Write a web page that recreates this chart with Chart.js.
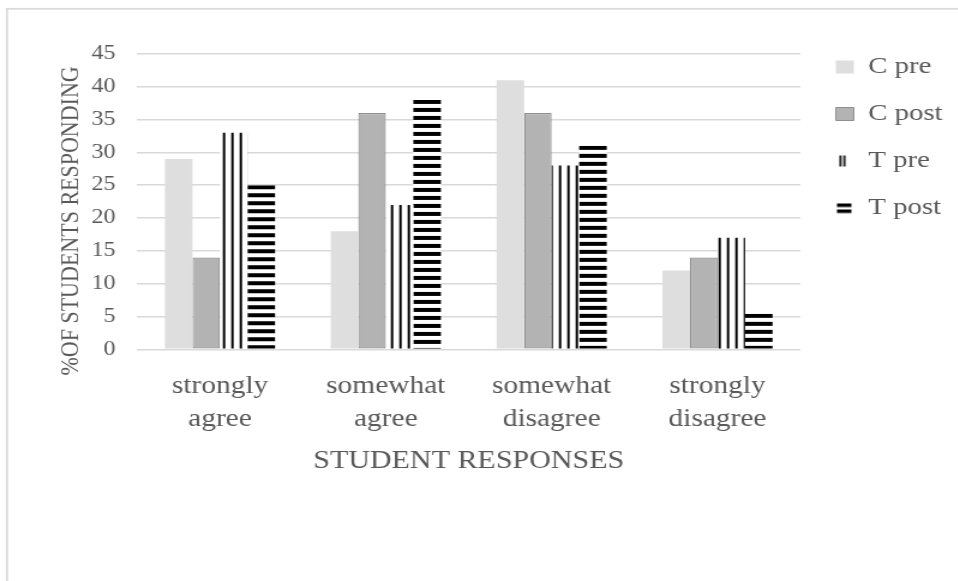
<!DOCTYPE html>
<html>
<head>
<meta charset="utf-8">
<script src="https://cdn.jsdelivr.net/npm/chart.js@4/dist/chart.umd.min.js"></script>
<style>
  html, body { margin: 0; padding: 0; background: #fff; overflow: hidden; }
  /* the chart is laid out narrower and stretched sideways to the window width */
  #wrap { position: absolute; left: 0; top: 0; width: 798.33px; height: 581px;
          transform: scaleX(1.2); transform-origin: 0 0; }
</style>
</head>
<body>
<div id="wrap"><canvas id="c"></canvas></div>
<script>
// ---- data ----
const categories = [['strongly', 'agree'], ['somewhat', 'agree'], ['somewhat', 'disagree'], ['strongly', 'disagree']];
const seriesNames = ['C pre', 'C post', 'T pre', 'T post'];
const cPre  = [29, 18, 41, 12];
const cPost = [14, 36, 36, 14];
const tPre  = [33, 22, 28, 17];
const tPost = [25, 38, 31, 5.4];
const yMin = 0, yMax = 45, yStep = 5;
const xTitle = 'STUDENT RESPONSES';
const yTitle = '%OF STUDENTS RESPONDING';

// ---- style ----
const FONT = "'Liberation Serif', 'Times New Roman', serif";
const TEXT = '#595959';
const GRID = '#d9d9d9';
const LEGEND_FONT = 24, LEGEND_PAD = 23, BOX_W = 15, BOX_H = 13;
const Y_AXIS_WIDTH = 71.9, X_AXIS_HEIGHT = 131.1;

Chart.defaults.font.family = FONT;
Chart.defaults.color = TEXT;

const canvas = document.getElementById('c');
const ctx = canvas.getContext('2d');

// hatch tiles
function tile(w, h, draw) {
  const c = document.createElement('canvas');
  c.width = w; c.height = h;
  const g = c.getContext('2d');
  g.fillStyle = '#fff'; g.fillRect(0, 0, w, h);
  g.fillStyle = '#000'; draw(g);
  return c;
}
const vLineTile = tile(7, 1, g => g.fillRect(0, 0, 2, 1));
const hLineTile = tile(1, 8, g => g.fillRect(0, 0, 1, 4));

// vertical lines, one shared phase across the chart
const vLines = ctx.createPattern(vLineTile, 'repeat');
vLines.setTransform(new DOMMatrix().translate(3.7, 0));

// horizontal stripes start with a black band at each bar's top
const stripeCache = {};
function stripesFrom(y) {
  const key = y.toFixed(2);
  if (!stripeCache[key]) {
    const p = ctx.createPattern(hLineTile, 'repeat');
    p.setTransform(new DOMMatrix().translate(0, y));
    stripeCache[key] = p;
  }
  return stripeCache[key];
}

// legend swatches for the hatched series
const legendTPre = ctx.createPattern(tile(BOX_W, BOX_H, g => {
  g.fillRect(3, 1, 1.7, 11); g.fillRect(6.4, 1, 1.7, 11);
}), 'no-repeat');
const legendTPost = ctx.createPattern(tile(BOX_W, BOX_H, g => {
  g.fillRect(1, 2, 12, 3.5); g.fillRect(1, 8, 12, 3.5);
}), 'no-repeat');
const legendFills = ['#dedede', '#b3b3b3', legendTPre, legendTPost];
const legendStrokes = ['#dedede', '#8e8e8e', '#fff', '#fff'];
const legendWidths = [0, 1, 0, 0];

// light frame around the chart
const frame = {
  id: 'frame',
  beforeDraw(chart) {
    const g = chart.ctx;
    g.save();
    g.fillStyle = '#fff';
    g.fillRect(0, 0, chart.width, chart.height);
    g.strokeStyle = GRID;
    g.lineWidth = 1.7;
    g.strokeRect(5.8, 8.8, chart.width + 40, chart.height + 40);
    g.restore();
  }
};

// legend sits just right of the plot, items starting a little above its top
const legendPlacement = {
  id: 'legendPlacement',
  afterLayout(chart) {
    const lg = chart.legend;
    if (!lg) return;
    const ca = chart.chartArea;
    const left = ca.right + 6.5;
    const top = ca.top - 22;
    lg.left = left; lg.right = left + lg.width;
    lg.top = top; lg.bottom = top + lg.height;
    const boxX = left + LEGEND_PAD;
    const rowY = i => top + LEGEND_PAD + i * (LEGEND_FONT + LEGEND_PAD) + (LEGEND_FONT - BOX_H) / 2;
    legendTPre.setTransform(new DOMMatrix().translate(boxX, rowY(2)));
    legendTPost.setTransform(new DOMMatrix().translate(boxX, rowY(3)));
  }
};

new Chart(ctx, {
  type: 'bar',
  data: {
    labels: categories,
    datasets: [
      { label: seriesNames[0], data: cPre, backgroundColor: '#dedede', borderWidth: 0 },
      { label: seriesNames[1], data: cPost, backgroundColor: '#b3b3b3', borderColor: '#8e8e8e',
        borderWidth: 1.2, borderSkipped: false },
      { label: seriesNames[2], data: tPre, backgroundColor: vLines, borderWidth: 0 },
      { label: seriesNames[3], data: tPost, borderWidth: 0,
        backgroundColor: c => (c.type === 'data' && c.chart.scales.y)
          ? stripesFrom(c.chart.scales.y.getPixelForValue(c.raw)) : '#000' }
    ]
  },
  options: {
    responsive: true,
    maintainAspectRatio: false,
    animation: false,
    events: [],
    datasets: { bar: { categoryPercentage: 0.664, barPercentage: 1.0 } },
    layout: { padding: { left: 42.3, right: 9.3, top: 54, bottom: 100.6 } },
    plugins: {
      tooltip: { enabled: false },
      legend: {
        position: 'right',
        align: 'start',
        labels: {
          boxWidth: BOX_W,
          boxHeight: BOX_H,
          padding: LEGEND_PAD,
          color: TEXT,
          font: { family: FONT, size: LEGEND_FONT },
          generateLabels(chart) {
            const items = Chart.defaults.plugins.legend.labels.generateLabels(chart);
            items.forEach((it, i) => {
              it.fillStyle = legendFills[i];
              it.strokeStyle = legendStrokes[i];
              it.lineWidth = legendWidths[i];
            });
            return items;
          }
        }
      }
    },
    scales: {
      x: {
        afterFit(scale) { scale.height = X_AXIS_HEIGHT; },
        grid: { display: false, drawTicks: false },
        border: { display: false },
        ticks: {
          color: TEXT,
          font: { family: FONT, size: 24.5, lineHeight: 1.35 },
          padding: 21,
          maxRotation: 0, minRotation: 0, autoSkip: false
        },
        title: {
          display: true, text: xTitle, color: TEXT,
          font: { family: FONT, size: 25 },
          padding: { top: 13.3, bottom: 3.5 }
        }
      },
      y: {
        afterFit(scale) { scale.width = Y_AXIS_WIDTH; },
        min: yMin, max: yMax,
        grid: { color: GRID, lineWidth: 1.5, drawTicks: false },
        border: { display: false },
        ticks: {
          stepSize: yStep, color: TEXT,
          font: { family: FONT, size: 20 },
          padding: 18
        },
        title: {
          display: true,
          // trailing spaces nudge the rotated title a little below the plot's middle
          text: yTitle + '       ',
          color: TEXT,
          font: { family: FONT, size: 22 },
          padding: { top: 4, bottom: 4 }
        }
      }
    }
  },
  plugins: [frame, legendPlacement]
});
</script>
</body>
</html>
